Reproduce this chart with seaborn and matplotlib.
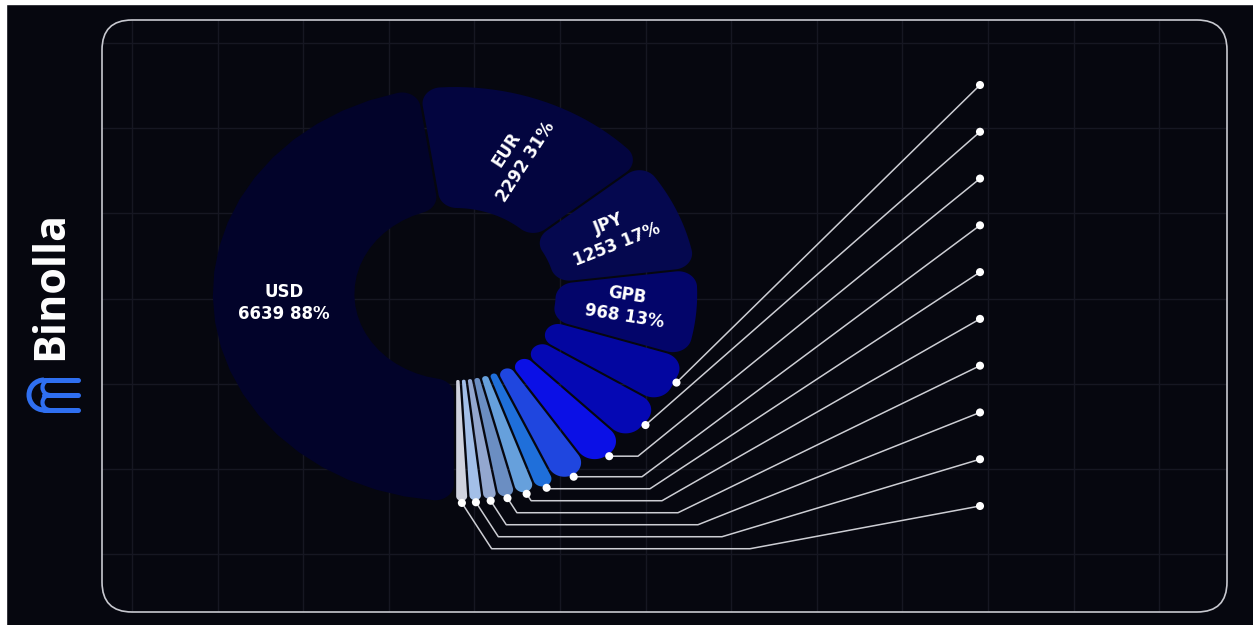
import numpy as np
import matplotlib
matplotlib.use("Agg")
import matplotlib.pyplot as plt
import seaborn as sns
from matplotlib.patches import Polygon, FancyBboxPatch, Rectangle, Arc

# ---------------- data ----------------
currencies = ["USD", "EUR", "JPY", "GPB", "CNY", "AUD", "CAD", "CHF",
              "HKD", "SGD", "SEK", "KRW", "NOK", "NZD"]
turnover = [6639, 2292, 1253, 968, 560, 505, 430, 350,
            195, 190, 170, 140, 130, 125]
label_pct = [88, 31, 17, 13]          # shares printed on the four big slices
slice_colors = ["#02032a", "#03053f", "#05084f", "#03056a", "#0306a0", "#0508b4",
                "#0b10e6", "#1f46df", "#1f6fda", "#66a0dc", "#6b8ec2", "#93a7cf",
                "#a3bfe8", "#cfd2de"]
label_rot = [0, 57, 21.5, -9]

# ---------------- style ----------------
BG = "#06070f"
sns.set_theme(style="dark", rc={"figure.facecolor": BG, "axes.facecolor": BG,
                                "savefig.facecolor": BG})
plt.rcParams["font.family"] = ["DejaVu Sans"]

W, H = 1253, 625
fig = plt.figure(figsize=(W / 100, H / 100), dpi=100)

# background / frame axes in pixel units
bg = fig.add_axes([0, 0, 1, 1])
bg.set_xlim(0, W)
bg.set_ylim(H, 0)
bg.axis("off")
bg.add_patch(Rectangle((0, 0), 6, H, color="white", zorder=0))
bg.add_patch(Rectangle((0, 0), W, 4, color="white", zorder=0))
face = FancyBboxPatch((102, 20), 1125, 592, boxstyle="round,pad=0,rounding_size=30",
                      facecolor=BG, edgecolor="none", zorder=1)
bg.add_patch(face)
for gx in 132 + 85.6 * np.arange(13):
    ln, = bg.plot([gx, gx], [20, 612], color="#161722", lw=1.0, zorder=1.5)
    ln.set_clip_path(face)
for gy in 43 + 85.2 * np.arange(7):
    ln, = bg.plot([102, 1227], [gy, gy], color="#161722", lw=1.0, zorder=1.5)
    ln.set_clip_path(face)
bg.add_patch(FancyBboxPatch((102, 20), 1125, 592, boxstyle="round,pad=0,rounding_size=30",
                            facecolor="none", edgecolor="#c8c9d0", lw=1.2, zorder=2))

# brand
bg.text(51, 286, "Binolla", rotation=90, fontsize=31, fontweight="bold",
        family=["Open Sans", "DejaVu Sans"], color="white", ha="center", va="center")
logo_c = "#2f6ff0"
for ly in (380, 395, 410):
    bg.plot([44, 78], [ly, ly], color=logo_c, lw=3.6, solid_capstyle="round", zorder=3)
bg.add_patch(Arc((44, 395), 30, 30, theta1=90, theta2=270, color=logo_c, lw=3.6, zorder=3))
bg.add_patch(Arc((50, 387.5), 15, 15, theta1=90, theta2=270, color=logo_c, lw=3.0, zorder=3))
bg.add_patch(Arc((50, 402.5), 15, 15, theta1=90, theta2=270, color=logo_c, lw=3.0, zorder=3))

# ---------------- donut ----------------
CX, CY = 455, 294      # centre in pixels (from top)
SX = 1.17              # horizontal stretch of the drawing
XH, YH = 480, 300
R, R0 = 207, 86
ax = fig.add_axes([(CX - XH * SX) / W, (H - CY - YH) / H, 2 * XH * SX / W, 2 * YH / H])
ax.patch.set_alpha(0)

wedges, _ = ax.pie(turnover, startangle=270, counterclock=False, radius=R,
                   wedgeprops=dict(width=R - R0))
ax.set_aspect("auto")
ax.set_xlim(-XH, XH)
ax.set_ylim(-YH, YH)
ax.axis("off")


def rounded_sector(t1d, t2d, r0, r1, gap, cr, n=24):
    t1, t2 = np.deg2rad(t1d), np.deg2rad(t2d)
    half = (t2 - t1) / 2
    s = np.sin(half)
    g = gap / 2
    ro = min(cr, max((r1 * s - g) / (1 + s), 0.5))
    ri = min(cr, max((r0 * s - g) / (1 - s), 0.3))
    ao = min(np.arcsin(min((ro + g) / (r1 - ro), 1.0)), half)
    ai = min(np.arcsin(min((ri + g) / (r0 + ri), 1.0)), half)

    def u(a):
        return np.array([np.cos(a), np.sin(a)])

    def arc(c, rad, a0, a1):
        a = np.linspace(a0, a1, n)
        return np.column_stack([c[0] + rad * np.cos(a), c[1] + rad * np.sin(a)])

    parts = [
        arc((r0 + ri) * u(t1 + ai), ri, t1 + ai + np.pi, t1 + 1.5 * np.pi),
        arc((r1 - ro) * u(t1 + ao), ro, t1 - np.pi / 2, t1 + ao),
        arc((0, 0), r1, t1 + ao, t2 - ao),
        arc((r1 - ro) * u(t2 - ao), ro, t2 - ao, t2 + np.pi / 2),
        arc((r0 + ri) * u(t2 - ai), ri, t2 + np.pi / 2, t2 + np.pi - ai),
        arc((0, 0), r0, t2 - ai, t1 + ai),
    ]
    return np.vstack(parts)


mids = []
for w, col in zip(wedges, slice_colors):
    w.set_visible(False)
    pts = rounded_sector(w.theta1, w.theta2, R0, R, 2.0, 16)
    ax.add_patch(Polygon(pts, closed=True, facecolor=col, edgecolor="none", zorder=3))
    mids.append(np.deg2rad((w.theta1 + w.theta2) / 2))

# labels on the four big slices
rr = (R0 + R) / 2
for i in range(4):
    m = mids[i]
    ax.text(rr * np.cos(m), rr * np.sin(m) + 2, f"{currencies[i]}\n{turnover[i]} {label_pct[i]}%",
            rotation=label_rot[i], rotation_mode="anchor", ha="center", va="center",
            color="white", fontsize=12, fontweight="bold", linespacing=1.3, zorder=6)

# leader lines for the small slices
small = list(range(4, len(turnover)))
label_x = (980 - CX) / SX
label_ys = np.linspace(CY - 85, CY - 506, len(small))
dots_x, dots_y = [], []
prev = np.inf
k = 0
for j, idx in enumerate(small):
    m = mids[idx]
    x0, y0 = (R + 2) * np.cos(m), (R + 2) * np.sin(m)
    ex, ey = label_x, label_ys[j]
    if np.rad2deg(m) > -45:
        xs, ys = [x0, ex], [y0, ey]
    else:
        level = min(y0, prev - 12)
        prev = level
        x1 = x0 + 0.65 * (y0 - level) / SX
        kx = (638 + 2 * k * k + 2 * k - CX) / SX
        k += 1
        xs, ys = [x0, x1, kx, ex], [y0, level, level, ey]
    ax.plot(xs, ys, color="#cdced4", lw=1.1, zorder=4, clip_on=False)
    dots_x += [x0, ex]
    dots_y += [y0, ey]

sns.scatterplot(x=dots_x, y=dots_y, ax=ax, color="white", s=34, edgecolor="none",
                zorder=5, legend=False, clip_on=False)
ax.set_xlim(-XH, XH)
ax.set_ylim(-YH, YH)
ax.axis("off")

fig.savefig("out.png", dpi=100, facecolor=BG)
